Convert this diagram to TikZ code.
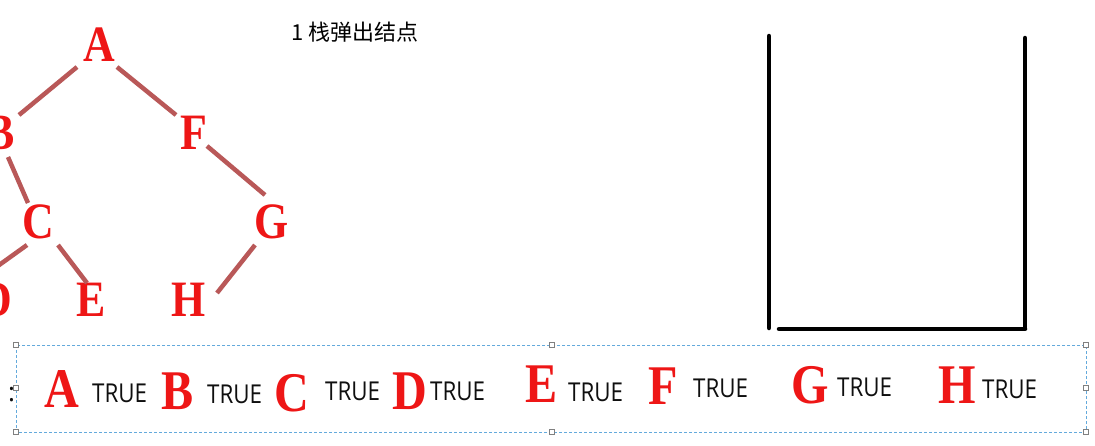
\documentclass[tikz,border=0pt]{standalone}
\usepackage{fontspec}
\setmainfont{Liberation Serif}
\newfontfamily\osans{Open Sans}
\newfontfamily\cjk{Noto Sans CJK SC}
\definecolor{lred}{RGB}{238,22,22}
\definecolor{edgec}{RGB}{185,88,88}
\definecolor{dashc}{RGB}{100,170,220}
\newcommand{\hsq}[1]{\scalebox{0.86}[1]{#1}}
\tikzset{
  treeletter/.style={inner sep=0pt, text=lred, font=\bfseries\fontsize{51}{51}\selectfont},
  rowletter/.style={inner sep=0pt, text=lred, font=\bfseries\fontsize{56}{56}\selectfont},
  truetext/.style={inner sep=0pt, anchor=west, text={rgb,255:red,15;green,15;blue,15}, font=\osans\fontsize{26}{26}\selectfont},
  treeedge/.style={draw=edgec, line width=4.5pt},
  stackline/.style={draw=black, line width=4.5pt, line cap=round},
  handle/.style={draw=gray, fill=white, line width=0.6pt, minimum size=5pt, inner sep=0pt},
}
\begin{document}
\begin{tikzpicture}[x=1pt,y=-1pt]
\useasboundingbox (0,0) rectangle (1095,445);
\fill[white] (0,0) rectangle (1095,445);
% tree
\node[treeletter] (A) at (99,45) {\hsq{A}};
\node[treeletter] (B) at (0,133) {\hsq{B}};
\node[treeletter] (F) at (194,133) {\hsq{F}};
\node[treeletter] (C) at (38,222) {\hsq{C}};
\node[treeletter] (G) at (272,222) {\hsq{G}};
\node[treeletter] (D) at (-4,300) {\hsq{D}};
\node[treeletter] (E) at (91,300) {\hsq{E}};
\node[treeletter] (H) at (189,300) {\hsq{H}};
\draw[treeedge] ([shift={(-22,22)}]A.center) -- ([shift={(19,-18)}]B.center);
\draw[treeedge] ([shift={(18,22)}]A.center) -- ([shift={(-18,-18)}]F.center);
\draw[treeedge] ([shift={(8,24)}]B.center) -- ([shift={(-10,-19)}]C.center);
\draw[treeedge] ([shift={(13,13)}]F.center) -- ([shift={(-7,-27)}]G.center);
\draw[treeedge] ([shift={(-11,23)}]C.center) -- ([shift={(-1,-32)}]D.center);
\draw[treeedge] ([shift={(20,23)}]C.center) -- ([shift={(-4,-17)}]E.center);
\draw[treeedge] ([shift={(-17,23)}]G.center) -- ([shift={(28,-7)}]H.center);
% title
\node[inner sep=0pt, anchor=west, font=\cjk\fontsize{22}{22}\selectfont] (title) at (291,32) {1 栈弹出结点};
% stack
\draw[stackline] (769,36) -- (769,328);
\draw[stackline] (1025,38) -- (1025,328);
\draw[stackline] (779,329) -- (1025,329);
% selection box
\draw[dashc, line width=0.9pt, dash pattern=on 3pt off 2pt] (16,345) rectangle (1086,432);
\foreach \hx/\hy in {16/345,552/345,1086/345,16/388,1086/388,16/432,552/432,1086/432}
  \node[handle] at (\hx,\hy) {};
\node[truetext] (colon) at (8,395) {:};
% row
\node[rowletter] (rA) at (62,389) {\hsq{A}};
\node[rowletter] (rB) at (178,391) {\hsq{B}};
\node[rowletter] (rC) at (292,393) {\hsq{C}};
\node[rowletter] (rD) at (410,391) {\hsq{D}};
\node[rowletter] (rE) at (542,384) {\hsq{E}};
\node[rowletter] (rF) at (663,386) {\hsq{F}};
\node[rowletter] (rG) at (810,385) {\hsq{G}};
\node[rowletter] (rH) at (957,385) {\hsq{H}};
\node[truetext] (t1) at (92,393) {\hsq{TRUE}};
\node[truetext] (t2) at (207,394) {\hsq{TRUE}};
\node[truetext] (t3) at (325,391) {\hsq{TRUE}};
\node[truetext] (t4) at (430,391) {\hsq{TRUE}};
\node[truetext] (t5) at (568,392) {\hsq{TRUE}};
\node[truetext] (t6) at (693,388) {\hsq{TRUE}};
\node[truetext] (t7) at (837,387) {\hsq{TRUE}};
\node[truetext] (t8) at (982,389) {\hsq{TRUE}};
\end{tikzpicture}
\end{document}
